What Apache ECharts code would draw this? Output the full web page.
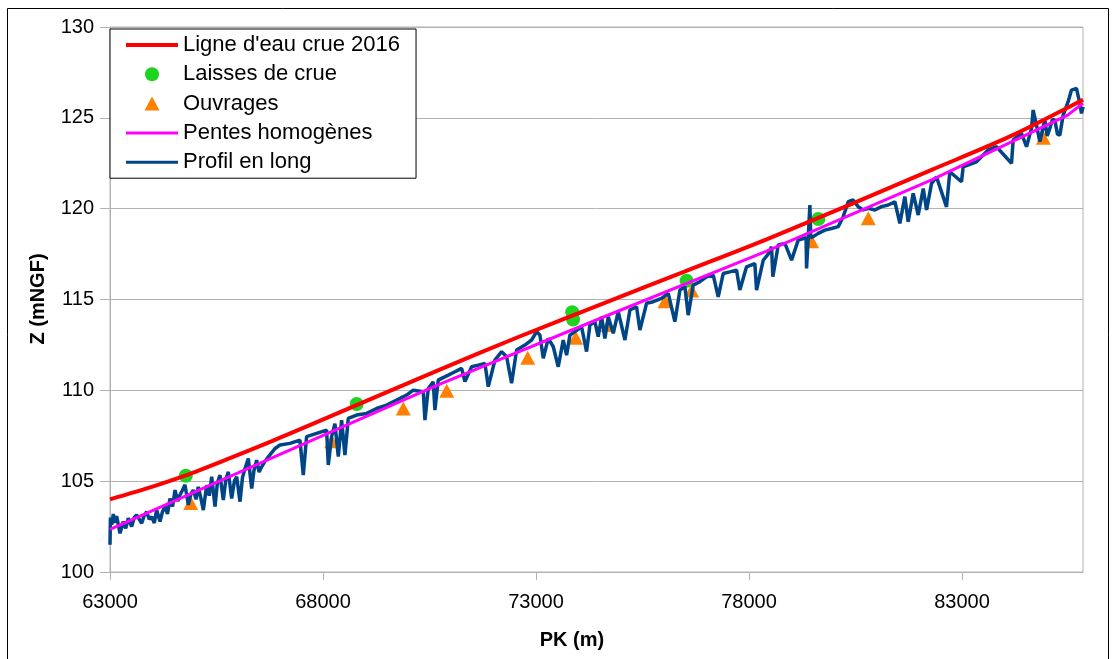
<!DOCTYPE html>
<html>
<head>
<meta charset="utf-8">
<script src="https://cdn.jsdelivr.net/npm/echarts@6/dist/echarts.min.js"></script>
<style>
  html, body { margin: 0; padding: 0; background: #fff; }
  #profil-chart { width: 1115px; height: 659px; }
</style>
</head>
<body>
<div id="profil-chart"></div>
<script>
// ligne d'eau crue 2016
const pkCrue = [63000, 64000, 64760, 65800, 66800, 68800, 70700, 72600, 74600, 76500, 78400, 80400, 82300, 84100, 85840];
const zCrue = [104.0, 104.7, 105.3, 106.25, 107.2, 109.2, 111.1, 112.95, 114.8, 116.55, 118.3, 120.25, 122.15, 123.95, 126.0];

// laisses de crue
const pkLaisses = [64780, 68790, 73850, 73870, 76535, 79627];
const zLaisses = [105.3, 109.25, 114.3, 113.9, 116.03, 119.43];

// ouvrages
const pkOuvrages = [64894, 68204, 69885, 70904, 72805, 73932, 74697, 76028, 76653, 79470, 80800, 84909];
const zOuvrages = [103.8, 107.2, 109.0, 109.98, 111.8, 112.9, 113.6, 114.9, 115.5, 118.2, 119.47, 123.9];

// pentes homogenes
const pkPentes = [63000, 66870, 70700, 74600, 78400, 82300, 85480, 85840];
const zPentes = [102.35, 106.35, 110.3, 114.05, 117.65, 121.6, 125.15, 125.8];

// profil en long
const pkProfil = [
  63000, 63010, 63040, 63078, 63120, 63156, 63235, 63313, 63370, 63430,
  63509, 63570, 63626, 63744, 63800, 63861, 63920, 63978, 64040, 64095,
  64174, 64230, 64291, 64350, 64408, 64470, 64526, 64590, 64643, 64700,
  64760, 64839, 64900, 64956, 65020, 65073, 65130, 65191, 65269, 65330,
  65387, 65465, 65520, 65582, 65660, 65720, 65778, 65856, 65920, 65974,
  66052, 66110, 66169, 66247, 66326, 66380, 66443, 66500, 66560, 66640,
  66717, 66873, 66990, 67224, 67459, 67537, 67615, 67850, 68085, 68124,
  68202, 68280, 68359, 68437, 68515, 68593, 68789, 69024, 69258, 69493,
  69728, 69962, 70119, 70354, 70393, 70471, 70588, 70627, 70705, 70784,
  70941, 71097, 71254, 71332, 71489, 71645, 71801, 71880, 72036, 72193,
  72310, 72427, 72545, 72740, 72897, 73014, 73092, 73170, 73288, 73405,
  73522, 73639, 73718, 73796, 73913, 74069, 74187, 74265, 74382, 74460,
  74540, 74617, 74696, 74813, 74930, 75087, 75204, 75360, 75439, 75595,
  75752, 75947, 76104, 76260, 76378, 76495, 76573, 76690, 76846, 77003,
  77160, 77277, 77394, 77550, 77707, 77785, 77942, 78137, 78177, 78333,
  78450, 78529, 78560, 78686, 78842, 78999, 79155, 79340, 79351, 79390,
  79429, 79450, 79507, 79625, 79781, 79937, 80094, 80211, 80329, 80446,
  80563, 80681, 80798, 80955, 81111, 81268, 81424, 81541, 81659, 81737,
  81854, 81972, 82090, 82168, 82285, 82401, 82636, 82714, 82988, 83027,
  83340, 83614, 83810, 84162, 84201, 84396, 84514, 84631, 84670, 84748,
  84827, 84944, 85000, 85062, 85120, 85179, 85240, 85296, 85374, 85491,
  85570, 85687, 85765, 85804, 85840
];
const zProfil = [
  101.5, 103.0, 102.6, 103.19, 102.7, 103.08, 102.13, 102.78, 102.4, 102.96,
  102.5, 103.0, 103.14, 102.68, 103.1, 103.32, 102.9, 103.04, 102.7, 103.41,
  102.78, 103.3, 103.6, 103.2, 104.05, 103.6, 104.51, 103.9, 104.24, 104.5,
  104.8, 103.69, 104.3, 104.51, 104.0, 104.69, 104.1, 103.41, 104.78, 104.2,
  105.24, 103.6, 104.9, 105.33, 103.96, 105.1, 105.51, 104.05, 105.0, 105.24,
  103.87, 105.2, 105.7, 106.25, 104.6, 105.6, 106.16, 105.5, 105.79, 106.1,
  106.34, 106.8, 106.99, 107.08, 107.26, 105.34, 107.45, 107.63, 107.81, 105.89,
  107.45, 108.17, 106.35, 108.36, 106.44, 108.45, 108.64, 108.73, 109.0, 109.19,
  109.46, 109.74, 110.01, 109.92, 108.36, 110.1, 110.47, 108.91, 110.56, 110.66,
  110.84, 111.02, 111.21, 110.48, 111.3, 111.39, 111.48, 110.2, 111.67, 112.13,
  111.85, 110.39, 112.22, 112.49, 112.77, 113.23, 113.04, 111.76, 112.86, 112.4,
  111.3, 112.77, 111.94, 113.04, 113.23, 113.5, 112.13, 113.59, 113.78, 112.95,
  114.05, 112.86, 114.05, 113.14, 114.33, 112.77, 114.42, 114.6, 113.32, 114.79,
  114.88, 115.06, 115.34, 113.78, 115.52, 115.7, 114.14, 115.79, 115.98, 116.25,
  116.34, 115.15, 116.43, 116.52, 116.62, 115.52, 116.8, 116.98, 115.52, 117.16,
  117.5, 117.9, 116.25, 118.0, 118.09, 117.17, 118.27, 118.4, 116.71, 118.4,
  120.2, 118.4, 118.46, 118.64, 118.82, 118.91, 119.01, 119.56, 120.38, 120.48,
  120.11, 119.93, 120.02, 119.93, 120.11, 120.2, 120.38, 119.19, 120.66, 119.28,
  120.84, 119.65, 121.11, 119.93, 121.39, 121.75, 120.1, 122.03, 121.48, 122.3,
  122.58, 123.23, 123.41, 122.49, 123.78, 124.14, 123.41, 124.42, 125.43, 124.6,
  123.69, 124.88, 124.0, 124.42, 124.9, 124.88, 124.1, 124.05, 125.15, 125.89,
  126.53, 126.62, 125.8, 125.24, 125.6
];

const xTicks = ['63000', '68000', '73000', '78000', '83000'];
const yTicks = ['100', '105', '110', '115', '120', '125', '130'];

function pairs(xs, ys) {
  let out = [];
  for (let i = 0; i < xs.length; i++) {
    out.push([xs[i], ys[i]]);
  }
  return out;
}

const font = "'Liberation Sans', Arial, sans-serif";
const chart = echarts.init(document.getElementById('profil-chart'));

// icones de legende (boite 52x14, traits centres)
const iconCrue = 'path://M0,0 M52,14 M0,5 L52,5 L52,9 L0,9 Z';
const iconPentes = 'path://M0,0 M52,14 M0,5.5 L52,5.5 L52,8.5 L0,8.5 Z';
const iconProfil = 'path://M0,0 M52,14 M0,5.5 L52,5.5 L52,8.5 L0,8.5 Z';
const iconOuvrages = 'path://M0,0 M52,14 M26,0 L33.5,14 L18.5,14 Z';

const option = {
  animation: false,
  backgroundColor: '#fff',
  grid: {
    left: 110,
    top: 27,
    right: 32,
    bottom: 87,
    show: true,
    borderColor: '#b3b3b3',
    borderWidth: 1
  },
  legend: {
    orient: 'vertical',
    left: 110,
    top: 29,
    padding: [4, 16, 4, 16],
    backgroundColor: '#fff',
    borderColor: '#000',
    borderWidth: 1,
    itemWidth: 52,
    itemHeight: 14,
    itemGap: 5.3,
    textStyle: { fontFamily: font, fontSize: 22, color: '#000', lineHeight: 24 },
    data: [
      { name: 'Ligne d\'eau crue 2016', icon: iconCrue },
      { name: 'Laisses de crue', icon: 'circle' },
      { name: 'Ouvrages', icon: iconOuvrages },
      { name: 'Pentes homogènes', icon: iconPentes },
      { name: 'Profil en long', icon: iconProfil }
    ]
  },
  xAxis: {
    type: 'value',
    min: 63000,
    max: 85840,
    interval: 5000,
    axisLine: { show: true, lineStyle: { color: '#b3b3b3' } },
    axisTick: { show: true, length: 8, lineStyle: { color: '#b3b3b3' } },
    splitLine: { show: false },
    axisLabel: {
      showMaxLabel: false,
      margin: 20,
      fontFamily: font,
      fontSize: 20,
      color: '#000',
      formatter: function (v) {
        let s = String(v);
        return xTicks.indexOf(s) >= 0 ? s : '';
      }
    }
  },
  yAxis: {
    type: 'value',
    min: 100,
    max: 130,
    interval: 5,
    axisLine: { show: true, lineStyle: { color: '#b3b3b3' } },
    axisTick: { show: true, length: 10, lineStyle: { color: '#b3b3b3' } },
    splitLine: { show: true, lineStyle: { color: '#b3b3b3' } },
    axisLabel: {
      margin: 16,
      fontFamily: font,
      fontSize: 20,
      color: '#000',
      formatter: function (v) {
        let s = String(v);
        return yTicks.indexOf(s) >= 0 ? s : '';
      }
    }
  },
  graphic: [
    {
      type: 'rect',
      shape: { x: 7.5, y: 8.5, width: 1101, height: 700 },
      style: { fill: 'none', stroke: '#000', lineWidth: 1 },
      silent: true,
      z: -10
    },
    {
      type: 'text',
      x: 38,
      y: 299,
      rotation: Math.PI / 2,
      style: {
        text: 'Z (mNGF)',
        font: 'bold 20px ' + font,
        fill: '#000',
        align: 'center',
        verticalAlign: 'middle'
      }
    },
    {
      type: 'text',
      x: 572,
      y: 640,
      style: {
        text: 'PK (m)',
        font: 'bold 20px ' + font,
        fill: '#000',
        align: 'center',
        verticalAlign: 'middle'
      }
    }
  ],
  series: [
    {
      name: 'Laisses de crue',
      type: 'scatter',
      symbol: 'circle',
      symbolSize: 14,
      itemStyle: { color: '#1ed41e', opacity: 1 },
      z: 2,
      data: pairs(pkLaisses, zLaisses)
    },
    {
      name: 'Ouvrages',
      type: 'scatter',
      symbol: 'triangle',
      symbolSize: [15, 14],
      itemStyle: { color: '#ff8000', opacity: 1 },
      z: 2,
      data: pairs(pkOuvrages, zOuvrages)
    },
    {
      name: 'Profil en long',
      type: 'line',
      symbol: 'none',
      itemStyle: { color: '#004586' },
      lineStyle: { color: '#004586', width: 3.5 },
      z: 3,
      data: pairs(pkProfil, zProfil)
    },
    {
      name: 'Pentes homogènes',
      type: 'line',
      symbol: 'none',
      itemStyle: { color: '#ff00ff' },
      lineStyle: { color: '#ff00ff', width: 3 },
      z: 4,
      data: pairs(pkPentes, zPentes)
    },
    {
      name: 'Ligne d\'eau crue 2016',
      type: 'line',
      symbol: 'none',
      smooth: 0.3,
      itemStyle: { color: '#ff0000' },
      lineStyle: { color: '#ff0000', width: 4 },
      z: 5,
      data: pairs(pkCrue, zCrue)
    }
  ]
};

chart.setOption(option);
</script>
</body>
</html>
